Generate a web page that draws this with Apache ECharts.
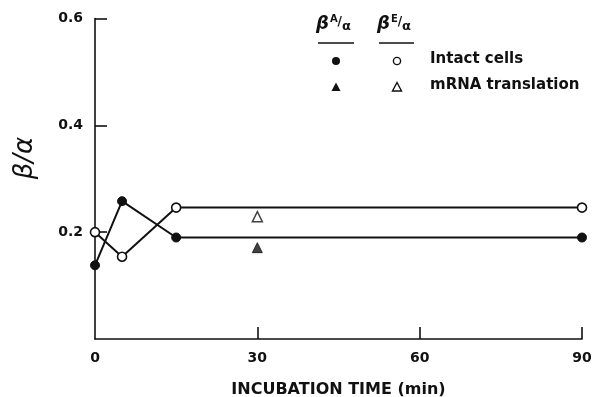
<!DOCTYPE html>
<html>
<head>
<meta charset="utf-8">
<script src="https://cdn.jsdelivr.net/npm/echarts@6/dist/echarts.min.js"></script>
<style>
  html, body { margin: 0; padding: 0; background: #fff; }
  #chart { width: 598px; height: 397px; }
</style>
</head>
<body>
<div id="chart"></div>
<script>
// Incubation times (min) and beta/alpha ratios
const timesIntact = [0, 5, 15, 90];
const betaAIntact = [0.138, 0.258, 0.190, 0.190];
const betaEIntact = [0.200, 0.154, 0.246, 0.246];
const timesMRNA = [30];
const betaAMRNA = [0.171];
const betaEMRNA = [0.229];
const xTicks = [0, 30, 60, 90];
const yTicks = [0.2, 0.4, 0.6];

const FONT = 'DejaVu Sans';
const INK = '#111';

const pairs = (xs, ys) => xs.map((x, i) => [x, ys[i]]);

const chart = echarts.init(document.getElementById('chart'), null, { renderer: 'canvas' });

const axisLine = { show: true, lineStyle: { color: INK, width: 1.6 } };
const tickStyle = { color: INK, width: 1.6 };
const labelStyle = { color: INK, fontFamily: FONT, fontSize: 14, fontWeight: 'bold', margin: 12 };

chart.setOption({
  animation: false,
  backgroundColor: '#fff',
  grid: { left: 95, right: 16, top: 18.5, bottom: 58, containLabel: false, outerBoundsMode: 'none' },
  xAxis: {
    type: 'value', min: 0, max: 90, interval: 30,
    axisLine: axisLine,
    splitLine: { show: false },
    axisTick: { show: true, inside: true, length: 12, lineStyle: tickStyle, customValues: xTicks.slice(1) },
    axisLabel: Object.assign({}, labelStyle, { customValues: xTicks, formatter: v => String(v) }),
    name: 'INCUBATION TIME (min)',
    nameLocation: 'middle', nameGap: 43,
    nameTextStyle: { color: INK, fontFamily: FONT, fontSize: 16, fontWeight: 'bold' }
  },
  yAxis: {
    type: 'value', min: 0, max: 0.6, interval: 0.2,
    axisLine: axisLine,
    splitLine: { show: false },
    axisTick: { show: true, inside: true, length: 12, lineStyle: tickStyle, customValues: yTicks },
    axisLabel: Object.assign({}, labelStyle, { customValues: yTicks, formatter: v => v.toFixed(1) })
  },
  series: [
    {
      name: 'βA/α intact cells', type: 'line', data: pairs(timesIntact, betaAIntact),
      symbol: 'circle', symbolSize: 9, z: 3,
      lineStyle: { color: INK, width: 2 },
      itemStyle: { color: INK, borderColor: INK, borderWidth: 1 }
    },
    {
      name: 'βE/α intact cells', type: 'line', data: pairs(timesIntact, betaEIntact),
      symbol: 'circle', symbolSize: 9, z: 4,
      lineStyle: { color: INK, width: 2 },
      itemStyle: { color: '#fff', borderColor: INK, borderWidth: 1.6 }
    },
    {
      name: 'βA/α mRNA translation', type: 'scatter', data: pairs(timesMRNA, betaAMRNA),
      symbol: 'triangle', symbolSize: 10,
      itemStyle: { color: INK, borderColor: INK, borderWidth: 1 }
    },
    {
      name: 'βE/α mRNA translation', type: 'scatter', data: pairs(timesMRNA, betaEMRNA),
      symbol: 'triangle', symbolSize: 10,
      itemStyle: { color: '#fff', borderColor: INK, borderWidth: 1.5 }
    }
  ],
  graphic: [
    // y-axis title
    {
      type: 'text', x: 25, y: 158, rotation: Math.PI / 2,
      style: {
        text: 'β/α', fontFamily: FONT, fontSize: 26, fontStyle: 'italic', fill: INK,
        align: 'center', verticalAlign: 'middle'
      }
    },
    // column headers with underline
    {
      type: 'text', left: 316, top: 14,
      style: {
        text: '{b|β}{s|A}{sl|/}{a|α}',
        rich: {
          b: { fontFamily: FONT, fontSize: 18, fontWeight: 'bold', fontStyle: 'italic', fill: INK },
          s: { fontFamily: FONT, fontSize: 10, fontWeight: 'bold', fill: INK, padding: [0, 0, 10, 1] },
          sl: { fontFamily: FONT, fontSize: 12, fontWeight: 'bold', fill: INK, padding: [0, 0, 4, 0] },
          a: { fontFamily: FONT, fontSize: 13, fontWeight: 'bold', fill: INK, padding: [5, 0, 0, 0] }
        }
      }
    },
    {
      type: 'text', left: 377, top: 14,
      style: {
        text: '{b|β}{s|E}{sl|/}{a|α}',
        rich: {
          b: { fontFamily: FONT, fontSize: 18, fontWeight: 'bold', fontStyle: 'italic', fill: INK },
          s: { fontFamily: FONT, fontSize: 10, fontWeight: 'bold', fill: INK, padding: [0, 0, 10, 1] },
          sl: { fontFamily: FONT, fontSize: 12, fontWeight: 'bold', fill: INK, padding: [0, 0, 4, 0] },
          a: { fontFamily: FONT, fontSize: 13, fontWeight: 'bold', fill: INK, padding: [5, 0, 0, 0] }
        }
      }
    },
    { type: 'line', shape: { x1: 318, y1: 43, x2: 354, y2: 43 }, style: { stroke: INK, lineWidth: 1.6 } },
    { type: 'line', shape: { x1: 379, y1: 43, x2: 414, y2: 43 }, style: { stroke: INK, lineWidth: 1.6 } },
    // key symbols
    { type: 'circle', shape: { cx: 336, cy: 61, r: 4 }, style: { fill: INK } },
    { type: 'circle', shape: { cx: 397, cy: 61, r: 3.6 }, style: { fill: '#fff', stroke: INK, lineWidth: 1.4 } },
    { type: 'polygon', shape: { points: [[336, 82.5], [340.5, 91], [331.5, 91]] }, style: { fill: INK } },
    { type: 'polygon', shape: { points: [[397, 82.5], [401.5, 91], [392.5, 91]] }, style: { fill: '#fff', stroke: INK, lineWidth: 1.4 } },
    // key texts
    {
      type: 'text', left: 430, top: 52,
      style: { text: 'Intact cells', fontFamily: FONT, fontSize: 15, fontWeight: 'bold', fill: INK }
    },
    {
      type: 'text', left: 430, top: 78,
      style: { text: 'mRNA translation', fontFamily: FONT, fontSize: 15, fontWeight: 'bold', fill: INK }
    }
  ]
});
</script>
</body>
</html>
